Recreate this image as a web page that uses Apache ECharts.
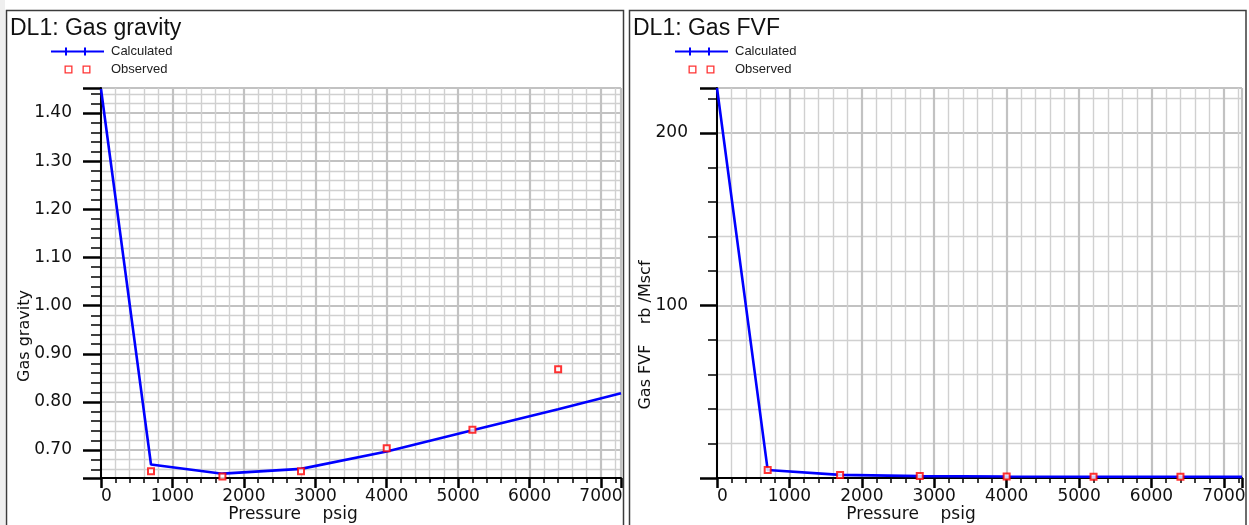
<!DOCTYPE html>
<html>
<head>
<meta charset="utf-8">
<title>DL1: Gas gravity / Gas FVF</title>
<script src="https://cdn.jsdelivr.net/npm/echarts@6/dist/echarts.min.js"></script>
<style>
  html, body { margin: 0; padding: 0; background: #ffffff; }
  #chart { width: 1249px; height: 525px; }
</style>
</head>
<body>
<div id="chart"></div>
<script>
// Differential liberation (DL1) results against pressure
const calcPressure = [0, 700, 1700, 2800, 4000, 5200, 6400, 7280];
const calcGravity = [1.45, 0.670, 0.651, 0.661, 0.697, 0.741, 0.785, 0.818];
const calcFvfPressure = [0, 700, 1700, 2800, 4000, 5200, 6400, 7250];
const calcFvf = [226, 4.6, 1.8, 1.1, 0.85, 0.75, 0.70, 0.68];

const obsPressure = [700, 1700, 2800, 4000, 5200, 6400];
const obsGravity = [0.656, 0.645, 0.656, 0.704, 0.742, 0.868];
const obsFvf = [4.6, 1.8, 1.1, 0.85, 0.75, 0.70];

const panelTitles = ['DL1: Gas gravity', 'DL1: Gas FVF'];
const yNames = ['Gas gravity', 'Gas FVF    rb /Mscf'];
const xName = 'Pressure    psig';
const legendNames = ['Calculated', 'Observed'];

const pair = (xs, ys) => xs.map((x, i) => [x, ys[i]]);

const TICK_FONT = 'DejaVu Sans';
const BLUE = '#0000ff';
const RED = '#ff0000';

// legend glyphs: a line with two cross ticks, and a pair of hollow squares
const iconCalc = 'path://M0,3h53v2h-53z M14,0h2v8h-2z M33,0h2v8h-2z';
const iconObs = 'path://M0,0h8v8h-8z M1.3,1.3v5.4h5.4v-5.4z M18,0h8v8h-8z M19.3,1.3v5.4h5.4v-5.4z';

function xAxisCfg(gridIndex, max) {
  return {
    type: 'value', gridIndex, min: 0, max,
    minInterval: 1000, maxInterval: 1000, splitNumber: 7,
    axisLine: { show: true, onZero: false, lineStyle: { color: '#000', width: 2 } },
    axisTick: { show: true, length: 10, lineStyle: { color: '#000', width: 2.5 } },
    minorTick: { show: true, splitNumber: 5, length: 5, lineStyle: { color: '#000', width: 1.5 } },
    splitLine: { show: true, lineStyle: { color: '#c2c2c2', width: 2.2 } },
    minorSplitLine: { show: true, lineStyle: { color: '#d0d0d0', width: 1.4 } },
    axisLabel: {
      show: true, margin: 10, color: '#111', fontFamily: TICK_FONT, fontSize: 17,
      showMaxLabel: false, alignMinLabel: 'left',
      formatter: v => String(Math.round(v))
    }
  };
}

function yAxisCfg(gridIndex, min, max, step, majorLen, minorLen, fmt) {
  return {
    type: 'value', gridIndex, min, max,
    minInterval: step, maxInterval: step, splitNumber: 8,
    axisLine: { show: true, onZero: false, lineStyle: { color: '#000', width: 2 } },
    axisTick: { show: true, length: majorLen, lineStyle: { color: '#000', width: 2.5 } },
    minorTick: { show: true, splitNumber: 5, length: minorLen, lineStyle: { color: '#000', width: 1.5 } },
    splitLine: { show: true, lineStyle: { color: '#c2c2c2', width: 2.2 } },
    minorSplitLine: { show: true, lineStyle: { color: '#d0d0d0', width: 1.4 } },
    axisLabel: {
      show: true, margin: 29, color: '#111', fontFamily: TICK_FONT, fontSize: 17,
      padding: [9, 0, 0, 0],
      showMinLabel: false, showMaxLabel: false, formatter: fmt
    }
  };
}

function legendCfg(left) {
  return {
    left, top: 45, orient: 'vertical', padding: 0,
    itemWidth: 57, itemHeight: 8, itemGap: 5,
    textStyle: { fontFamily: 'Liberation Sans', fontSize: 13, color: '#222' },
    selectedMode: false,
    data: [
      { name: legendNames[0], icon: iconCalc, itemStyle: { color: BLUE, borderWidth: 0 } },
      { name: legendNames[1], icon: iconObs, itemStyle: { color: RED, borderWidth: 0 } }
    ]
  };
}

const chart = echarts.init(document.getElementById('chart'), null, { renderer: 'canvas' });

const titleStyle = { fontFamily: 'Liberation Sans', fontSize: 23, fontWeight: 'normal', color: '#111' };

const option = {
  backgroundColor: '#ffffff',
  animation: false,
  title: [
    { text: panelTitles[0], left: 10, top: 17, padding: 0, textStyle: titleStyle },
    { text: panelTitles[1], left: 633, top: 17, padding: 0, textStyle: titleStyle }
  ],
  legend: [
    Object.assign(legendCfg(51), { id: 'lg0' }),
    Object.assign(legendCfg(675), { id: 'lg1' })
  ],
  grid: [
    { left: 101, top: 88, width: 520, height: 390 },
    { left: 717, top: 88, width: 525, height: 390 }
  ],
  xAxis: [xAxisCfg(0, 7280), xAxisCfg(1, 7250)],
  yAxis: [
    yAxisCfg(0, 0.642, 1.452, 0.1, 18, 10, v => v.toFixed(2)),
    yAxisCfg(1, 0, 226, 100, 17, 9, v => String(Math.round(v)))
  ],
  graphic: [
    { type: 'rect', z: -10, shape: { x: 0, y: 0, width: 5, height: 525 }, style: { fill: '#efefef' } },
    { type: 'rect', z: -10, shape: { x: 6.5, y: 10.5, width: 617, height: 530 },
      style: { fill: null, stroke: '#3c3c3c', lineWidth: 1.5 } },
    { type: 'rect', z: -10, shape: { x: 629.5, y: 10.5, width: 616.5, height: 530 },
      style: { fill: null, stroke: '#3c3c3c', lineWidth: 1.5 } },
    { type: 'text', x: 25, y: 336, rotation: Math.PI / 2,
      style: { text: yNames[0], fontFamily: TICK_FONT, fontSize: 16, fill: '#111',
               align: 'center', verticalAlign: 'middle' } },
    { type: 'text', x: 646, y: 335, rotation: Math.PI / 2,
      style: { text: yNames[1], fontFamily: TICK_FONT, fontSize: 16, fill: '#111',
               align: 'center', verticalAlign: 'middle' } },
    { type: 'text', x: 293, y: 515,
      style: { text: xName, fontFamily: TICK_FONT, fontSize: 17, fill: '#111',
               align: 'center', verticalAlign: 'middle' } },
    { type: 'text', x: 911, y: 515,
      style: { text: xName, fontFamily: TICK_FONT, fontSize: 17, fill: '#111',
               align: 'center', verticalAlign: 'middle' } }
  ],
  series: [
    { name: legendNames[0], type: 'line', xAxisIndex: 0, yAxisIndex: 0,
      data: pair(calcPressure, calcGravity), symbol: 'none', clip: true,
      lineStyle: { color: BLUE, width: 2.6 }, itemStyle: { color: BLUE }, z: 3 },
    { name: legendNames[1], type: 'scatter', xAxisIndex: 0, yAxisIndex: 0,
      data: pair(obsPressure, obsGravity), symbol: 'emptyRect', symbolSize: 6,
      itemStyle: { color: RED, borderColor: RED, borderWidth: 1.2 }, z: 4 },
    { name: legendNames[0], type: 'line', xAxisIndex: 1, yAxisIndex: 1,
      data: pair(calcFvfPressure, calcFvf), symbol: 'none', clip: true,
      lineStyle: { color: BLUE, width: 2.6 }, itemStyle: { color: BLUE }, z: 3 },
    { name: legendNames[1], type: 'scatter', xAxisIndex: 1, yAxisIndex: 1,
      data: pair(obsPressure, obsFvf), symbol: 'emptyRect', symbolSize: 6,
      itemStyle: { color: RED, borderColor: RED, borderWidth: 1.2 }, z: 4 }
  ]
};

chart.setOption(option);
</script>
</body>
</html>
